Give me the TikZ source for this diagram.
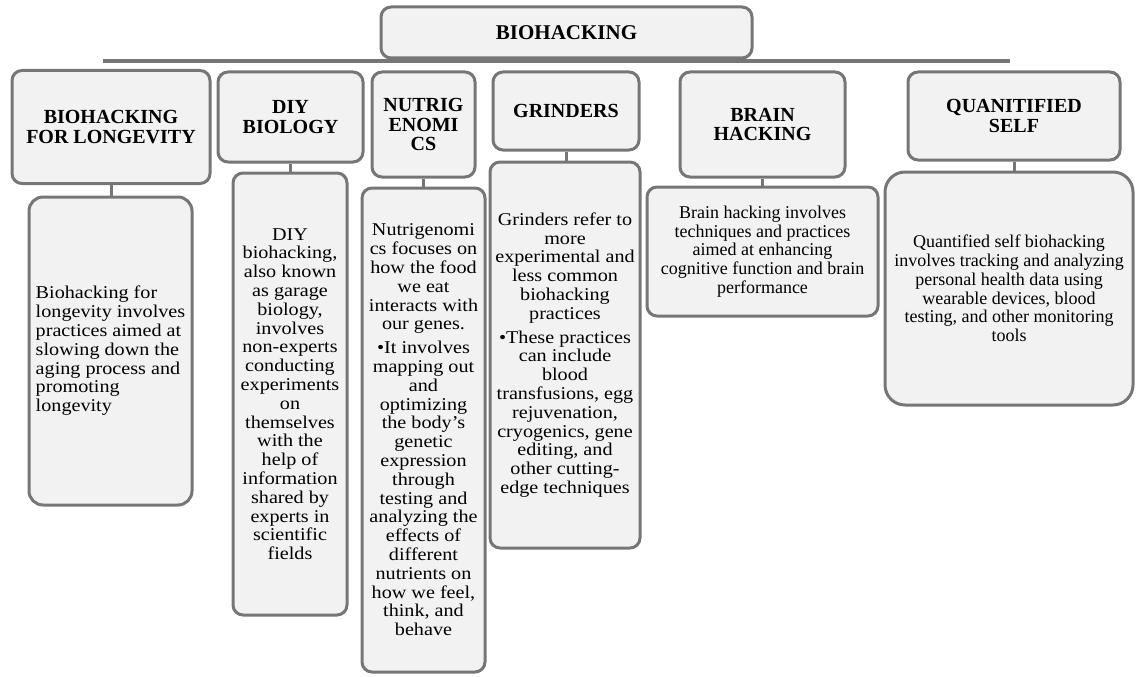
\documentclass[tikz,border=0pt]{standalone}
\usepackage{fontspec}
\setmainfont{Liberation Serif}
\newfontfamily\widefont{Liberation Serif}[FakeStretch=1.12]
\definecolor{edgegray}{RGB}{118,118,118}
\definecolor{panelfill}{RGB}{242,242,242}

\begin{document}
\begin{tikzpicture}[x=1pt, y=-1pt,
  panel/.style={draw=edgegray, line width=3pt, fill=panelfill, rounded corners=10pt, align=center, inner sep=2pt},
  head/.style={panel, font=\fontsize{20}{19.5}\selectfont\bfseries},
  info/.style={panel, font=\fontsize{18}{18.8}\selectfont},
  wideinfo/.style={panel, font=\widefont\fontsize{18}{18.8}\selectfont},
  link/.style={draw=edgegray, line width=3pt}]
\useasboundingbox (0,0) rectangle (1136,677);

% top bar and title
\coordinate (barL) at (103,61);
\coordinate (barR) at (1010,61);
\draw[link, line width=4pt] (barL) -- (barR);
\node[head, font=\fontsize{21}{22}\selectfont\bfseries, minimum width=371pt, minimum height=51pt] (top) at (566.5,32.5) {BIOHACKING};

% headers
\node[head, minimum width=198pt, minimum height=113pt] (h1) at (111,127) {BIOHACKING\\FOR LONGEVITY};
\node[head, minimum width=145pt, minimum height=90pt] (h2) at (290.5,117) {DIY\\BIOLOGY};
\node[head, minimum width=103pt, minimum height=105pt] (h3) at (423.5,124.5) {NUTRIG\\ENOMI\\CS};
\node[head, minimum width=146pt, minimum height=78pt] (h4) at (566,111) {GRINDERS};
\node[head, minimum width=165pt, minimum height=105pt] (h5) at (762.5,124.5) {BRAIN\\HACKING};
\node[head, minimum width=212pt, minimum height=88pt] (h6) at (1014,116) {QUANITIFIED\\SELF};

% details
\node[wideinfo, align=left, rounded corners=14pt, minimum width=163pt, minimum height=308pt] (d1) at (110.5,351)
  {Biohacking for\\longevity involves\\practices aimed at\\slowing down the\\aging process and\\promoting\\longevity};
\node[wideinfo, minimum width=114pt, minimum height=442pt] (d2) at (290,394)
  {DIY\\biohacking,\\also known\\as garage\\biology,\\involves\\non-experts\\conducting\\experiments\\on\\themselves\\with the\\help of\\information\\shared by\\experts in\\scientific\\fields};
\node[wideinfo, minimum width=123pt, minimum height=484pt] (d3) at (423.5,430)
  {Nutrigenomi\\cs focuses on\\how the food\\we eat\\interacts with\\our genes.\\[5pt]•It involves\\mapping out\\and\\optimizing\\the body’s\\genetic\\expression\\through\\testing and\\analyzing the\\effects of\\different\\nutrients on\\how we feel,\\think, and\\behave};
\node[wideinfo, minimum width=150pt, minimum height=386pt] (d4) at (565,355)
  {Grinders refer to\\more\\experimental and\\less common\\biohacking\\practices\\[5pt]•These practices\\can include\\blood\\transfusions, egg\\rejuvenation,\\cryogenics, gene\\editing, and\\other cutting-\\edge techniques};
\node[info, minimum width=231pt, minimum height=129pt] (d5) at (762.5,251.5)
  {Brain hacking involves\\techniques and practices\\aimed at enhancing\\cognitive function and brain\\performance};
\node[info, rounded corners=20pt, minimum width=248pt, minimum height=233pt] (d6) at (1009,288.5)
  {Quantified self biohacking\\involves tracking and analyzing\\personal health data using\\wearable devices, blood\\testing, and other monitoring\\tools};

% stubs
\draw[link] (h1.south) -- (h1.south |- d1.north);
\draw[link] (h2.south) -- (h2.south |- d2.north);
\draw[link] (h3.south) -- (h3.south |- d3.north);
\draw[link] (h4.south) -- (h4.south |- d4.north);
\draw[link] (h5.south) -- (h5.south |- d5.north);
\draw[link] (h6.south) -- (h6.south |- d6.north);
\end{tikzpicture}
\end{document}
